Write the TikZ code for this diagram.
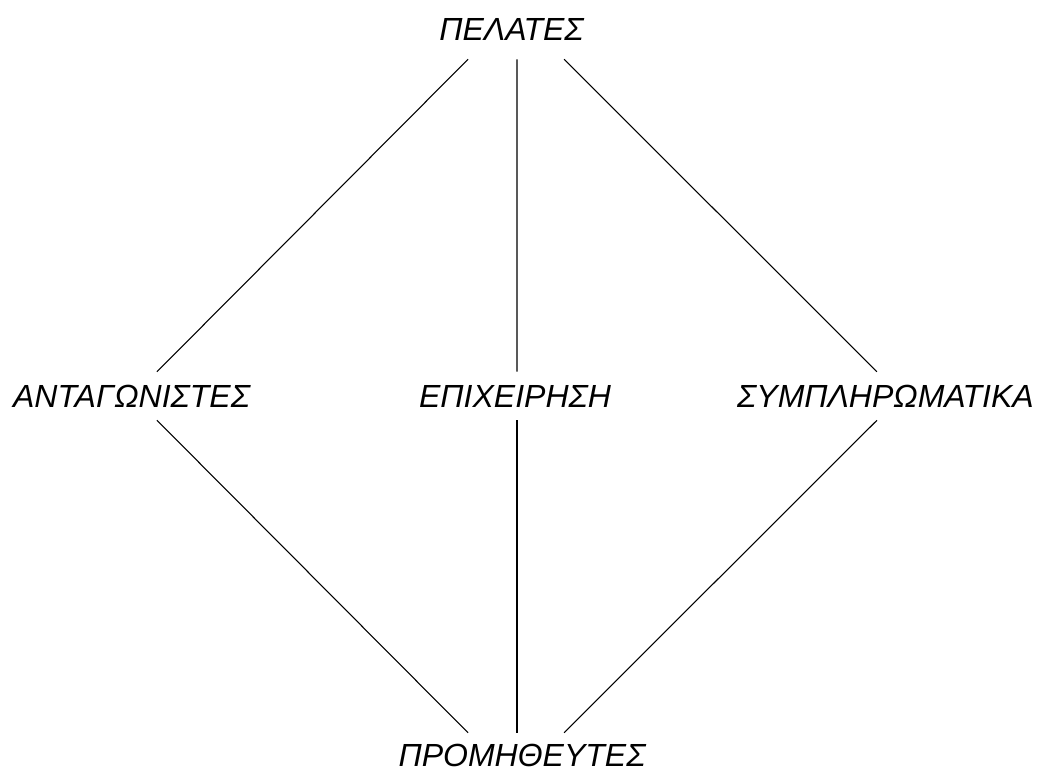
\documentclass[tikz,border=0pt]{standalone}
\usepackage{fontspec}
\setmainfont{Liberation Sans}
\usepackage{tikz}

\begin{document}
\begin{tikzpicture}[x=0.75pt, y=-0.75pt,
    etiqueta/.style={font=\fontsize{24}{29}\selectfont\itshape, anchor=base,
      text height=16.5pt, text depth=0pt, inner xsep=0pt, inner ysep=9.75pt},
    enlace/.style={draw=black, line width=0.8pt}]
        \useasboundingbox (0,0) rectangle (1037,771);
        \node[etiqueta, text depth=4.5pt] (pelates) at (511.5,40) {ΠΕΛΑΤΕΣ};
        \node[etiqueta] (antag) at (131.5,407) {ΑΝΤΑΓΩΝΙΣΤΕΣ};
        \node[etiqueta] (epix) at (515,407) {ΕΠΙΧΕΙΡΗΣΗ};
        \node[etiqueta] (sympl) at (885.5,407) {ΣΥΜΠΛΗΡΩΜΑΤΙΚΑ};
        \node[etiqueta, inner ysep=8.25pt] (prom) at (522,766) {ΠΡΟΜΗΘΕΥΤΕΣ};
        \draw[enlace] ([xshift=-32.6pt]pelates.south) -- ([xshift=19.1pt]antag.north);
        \draw[enlace] ([xshift=4.1pt]pelates.south) -- ([xshift=1.5pt]epix.north);
        \draw[enlace] ([xshift=39.4pt]pelates.south) -- ([xshift=-6.4pt]sympl.north);
        \draw[enlace] ([xshift=1.5pt]epix.south) -- ([xshift=-3.75pt]prom.north);
        \draw[enlace] ([xshift=19.1pt]antag.south) -- ([xshift=-40.5pt]prom.north);
        \draw[enlace] ([xshift=-6.4pt]sympl.south) -- ([xshift=31.5pt]prom.north);
      \end{tikzpicture}
\end{document}
